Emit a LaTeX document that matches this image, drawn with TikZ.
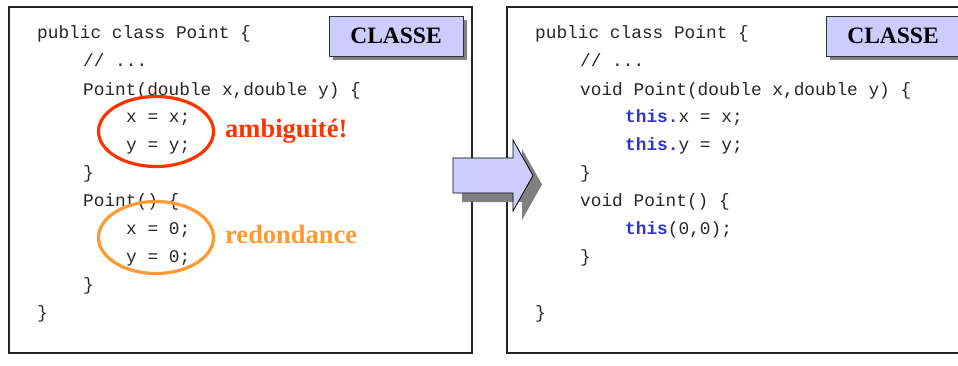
\documentclass[tikz,border=0pt]{standalone}
\usepackage{fontspec}
\setmainfont{Liberation Serif}
\setmonofont{Liberation Mono}
\usetikzlibrary{shapes.geometric}
\definecolor{lavender}{HTML}{CCCCFF}
\definecolor{ambigred}{HTML}{FF3300}
\definecolor{redonorange}{HTML}{FF9933}
\definecolor{thisblue}{HTML}{3333CC}
\definecolor{shadowgray}{HTML}{808080}
\newcommand{\kwthis}[1]{\textcolor{thisblue}{\bfseries #1}}
\tikzset{
  panel/.style     = {draw=black!85, line width=1.2pt, minimum width=463pt,
                      minimum height=346pt, inner sep=0pt},
  codeline/.style  = {anchor=base west, inner sep=0pt, text=black!85,
                      font=\fontsize{17.8}{20}\selectfont\ttfamily},
  tagbox/.style    = {draw=black!80, fill=lavender, line width=1pt, inner sep=0pt,
                      minimum width=134pt, minimum height=40pt,
                      font=\fontsize{23.5}{26}\selectfont\bfseries},
  tagshadow/.style = {fill=shadowgray, inner sep=0pt,
                      minimum width=134pt, minimum height=40pt},
  remark/.style    = {anchor=base west, inner sep=0pt,
                      font=\fontsize{26.5}{30}\selectfont\bfseries},
  circled/.style   = {ellipse, line width=3.2pt, inner sep=0pt}
}

\begin{document}
\begin{tikzpicture}[x=1pt,y=-1pt]
  \useasboundingbox (0,0) rectangle (958,365);
  \clip (0,0) rectangle (958,365);

  % the two panels
  \node[panel] (before) at (240.5,180) {};
  \node[panel] (after)  at (738.5,180) {};

  % CLASSE tags
  \node[tagshadow] at (400,40) {};
  \node[tagbox] (tagL) at (396,36) {CLASSE};
  \node[tagshadow] at (897,40) {};
  \node[tagbox] (tagR) at (893,36) {CLASSE};

  % code before
  \node[codeline] (b1)  at (37,38)  {public class Point \{};
  \node[codeline] (b2)  at (83,66)  {// ...};
  \node[codeline] (b3)  at (83,95)  {Point(double x,double y) \{};
  \node[codeline] (b4)  at (126,122) {x = x;};
  \node[codeline] (b5)  at (126,150) {y = y;};
  \node[codeline] (b6)  at (83,178) {\}};
  \node[codeline] (b7)  at (83,206) {Point() \{};
  \node[codeline] (b8)  at (126,234) {x = 0;};
  \node[codeline] (b9)  at (126,262) {y = 0;};
  \node[codeline] (b10) at (83,290) {\}};
  \node[codeline] (b11) at (37,318) {\}};

  % code after
  \node[codeline] (a1)  at (535,38)  {public class Point \{};
  \node[codeline] (a2)  at (580,66)  {// ...};
  \node[codeline] (a3)  at (580,95)  {void Point(double x,double y) \{};
  \node[codeline] (a4)  at (625,122) {\kwthis{this.}x = x;};
  \node[codeline] (a5)  at (625,150) {\kwthis{this.}y = y;};
  \node[codeline] (a6)  at (580,178) {\}};
  \node[codeline] (a7)  at (580,206) {void Point() \{};
  \node[codeline] (a8)  at (625,234) {\kwthis{this}(0,0);};
  \node[codeline] (a9)  at (580,262) {\}};
  \node[codeline] (a10) at (535,318) {\}};

  % remarks
  \node[circled, draw=ambigred, minimum width=115pt, minimum height=70pt]
    (ambig) at (156,131.5) {};
  \node[circled, draw=redonorange, minimum width=115pt, minimum height=72pt]
    (redon) at (156,237.5) {};
  \node[remark, text=ambigred]    (ambiglbl) at (225,137) {ambiguité!};
  \node[remark, text=redonorange] (redonlbl) at (225,243) {redondance};

  % big arrow
  \fill[shadowgray] (462,167) -- (522,167) -- (522,149) -- (542,184.5)
    -- (522,220) -- (522,202) -- (462,202) -- cycle;
  \draw[fill=lavender, line width=0.8pt] (453,158) -- (513,158) -- (513,140)
    -- (533,175.5) -- (513,211) -- (513,193) -- (453,193) -- cycle;
\end{tikzpicture}
\end{document}
